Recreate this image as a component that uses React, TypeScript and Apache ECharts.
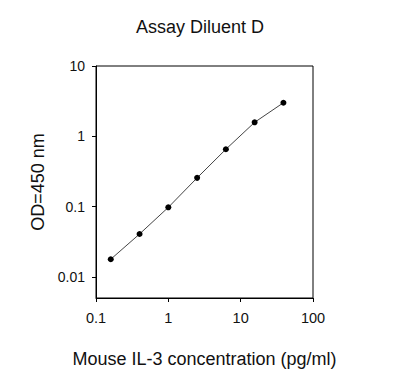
import React, { useEffect, useRef } from "react";
import * as echarts from "echarts";

const concentrations = [0.16, 0.4, 1, 2.5, 6.25, 15.6, 39];
const odValues = [0.0178, 0.0407, 0.0975, 0.256, 0.654, 1.58, 3.0];
const xTicks = [0.1, 1, 10, 100];
const yTicks = [0.01, 0.1, 1, 10];

const FONT = "Liberation Sans, Arial, sans-serif";

function fmt(v: number): string {
  return String(Number(Number(v).toPrecision(3)));
}

export default function App() {
  const ref = useRef<HTMLDivElement>(null);
  useEffect(() => {
    if (!ref.current) return;
    const chart = echarts.init(ref.current, null, { renderer: "svg" });
    chart.setOption({
      animation: false,
      backgroundColor: "#fff",
      title: {
        text: "Assay Diluent D",
        left: "center",
        top: 13,
        textStyle: { fontFamily: FONT, fontSize: 18, fontWeight: "normal", color: "#111" },
      },
      grid: {
        left: 96,
        right: 87,
        top: 66,
        bottom: 90,
        show: true,
        borderColor: "#000",
        borderWidth: 1,
        backgroundColor: "transparent",
      },
      xAxis: {
        type: "log",
        min: 0.1,
        max: 100,
        name: "Mouse IL-3 concentration (pg/ml)",
        nameLocation: "middle",
        nameGap: 52,
        nameTextStyle: { fontFamily: FONT, fontSize: 18, color: "#111" },
        axisLine: { show: true, lineStyle: { color: "#000", width: 1 } },
        axisTick: { show: true, length: 4, inside: false, lineStyle: { color: "#000" }, customValues: xTicks },
        axisLabel: {
          margin: 12,
          fontFamily: FONT,
          fontSize: 14.5,
          color: "#111",
          customValues: xTicks,
          formatter: (v: number) => fmt(v),
        },
        splitLine: { show: false },
      },
      yAxis: {
        type: "log",
        min: 0.005,
        max: 10,
        name: "OD=450 nm",
        nameLocation: "middle",
        nameGap: 48,
        nameRotate: 90,
        nameTextStyle: { fontFamily: FONT, fontSize: 18, color: "#111" },
        axisLine: { show: true, lineStyle: { color: "#000", width: 1 } },
        axisTick: { show: true, length: 4, inside: false, lineStyle: { color: "#000" }, customValues: yTicks },
        axisLabel: {
          margin: 11,
          fontFamily: FONT,
          fontSize: 14,
          color: "#111",
          customValues: yTicks,
          formatter: (v: number) => fmt(v),
        },
        splitLine: { show: false },
      },
      series: [
        {
          type: "line",
          data: concentrations.map((c, i) => [c, odValues[i]]),
          symbol: "circle",
          symbolSize: 6,
          itemStyle: { color: "#000" },
          lineStyle: { color: "#444", width: 1 },
        },
      ],
    });
    return () => chart.dispose();
  }, []);
  return <div ref={ref} style={{ width: 400, height: 388, position: "absolute", left: 0, top: 0 }} />;
}
